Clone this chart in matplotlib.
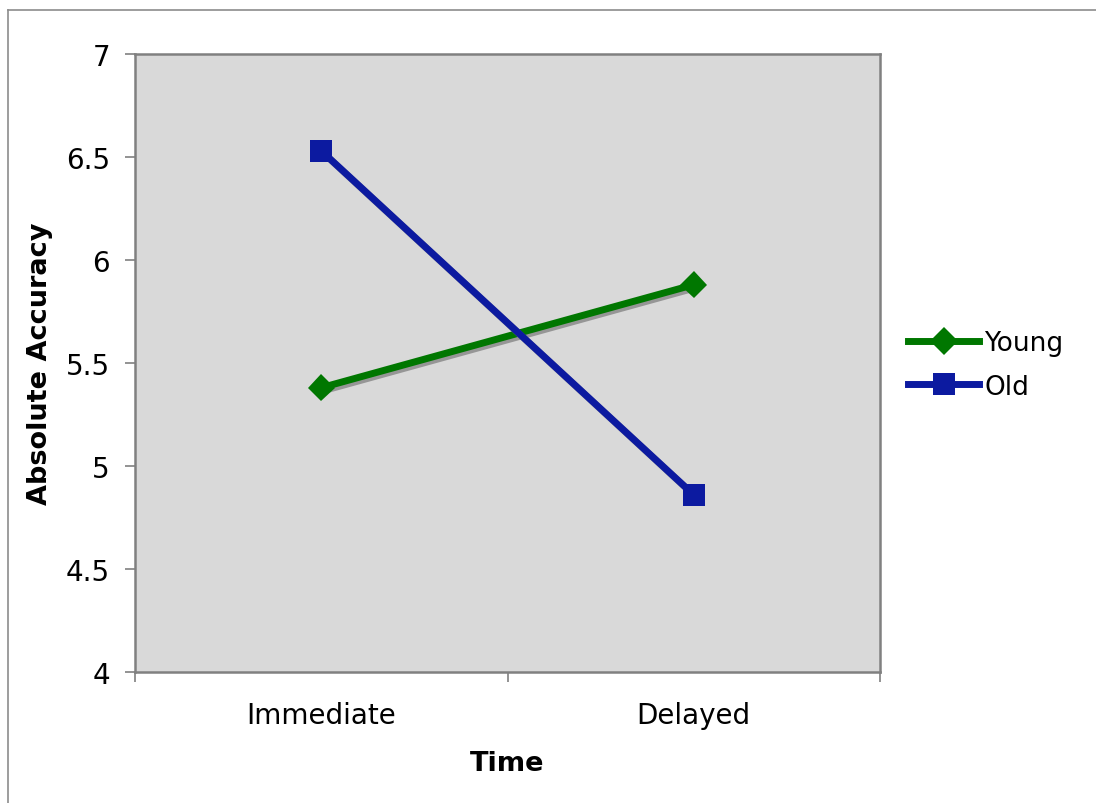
import matplotlib
matplotlib.use('Agg')
import matplotlib.pyplot as plt
import matplotlib.patheffects as pe
from matplotlib.lines import Line2D

# data
categories = ['Immediate', 'Delayed']
young = [5.38, 5.88]
old = [6.53, 4.86]
yticks = [4, 4.5, 5, 5.5, 6, 6.5, 7]
ytick_labels = ['4', '4.5', '5', '5.5', '6', '6.5', '7']

green = '#007700'
blue = '#0c1aa0'

plt.rcParams['font.family'] = 'DejaVu Sans'

fig = plt.figure(figsize=(10.96, 8.04), dpi=100)
ax = fig.add_axes([135/1096, 1 - 673/804, 745/1096, 618/804])
ax.set_facecolor('#d9d9d9')

# outer frame (top and left only visible)
fig.add_artist(Line2D([8/1096, 1], [1 - 11/804, 1 - 11/804], transform=fig.transFigure,
                      color='#8c8c8c', lw=1.2))
fig.add_artist(Line2D([8/1096, 8/1096], [0, 1 - 11/804], transform=fig.transFigure,
                      color='#8c8c8c', lw=1.2))

x = [0.5, 1.5]
shadow = [pe.SimpleLineShadow(offset=(2, -2), shadow_color='#808080', alpha=0.75), pe.Normal()]

ax.plot(x, young, color=green, lw=5, marker='D', markersize=14,
        markeredgewidth=0, path_effects=shadow, zorder=3)
ax.plot(x, old, color=blue, lw=5, marker='s', markersize=16,
        markeredgewidth=0, path_effects=shadow, zorder=3)

ax.set_xlim(0, 2)
ax.set_ylim(4, 7)
ax.set_yticks(yticks)
ax.set_yticklabels(ytick_labels, fontsize=20)
ax.set_xticks([0, 1, 2])
ax.set_xticklabels([])
ax.set_xticks(x, minor=True)
ax.set_xticklabels(categories, minor=True, fontsize=20)
ax.tick_params(axis='x', which='minor', length=0, pad=21)
ax.tick_params(axis='both', which='major', length=7, width=1.2, color='#808080', direction='out')
ax.tick_params(axis='y', pad=11)

for s in ax.spines.values():
    s.set_color('#808080')
    s.set_linewidth(1.8)

ax.set_xlabel('Time', fontsize=19.5, fontweight='bold', labelpad=15)
ax.set_ylabel('Absolute Accuracy', fontsize=19.5, fontweight='bold', labelpad=9)

handles = [Line2D([], [], color=green, lw=5, marker='D', markersize=14, markeredgewidth=0),
           Line2D([], [], color=blue, lw=5, marker='s', markersize=16, markeredgewidth=0)]
fig.legend(handles, ['Young', 'Old'], loc='center left',
           bbox_to_anchor=(908/1096, 1 - 366/804), frameon=False, fontsize=19,
           handlelength=2.7, handletextpad=0.2, labelspacing=0.65,
           borderpad=0, borderaxespad=0)

plt.savefig('out.png', dpi=100)
